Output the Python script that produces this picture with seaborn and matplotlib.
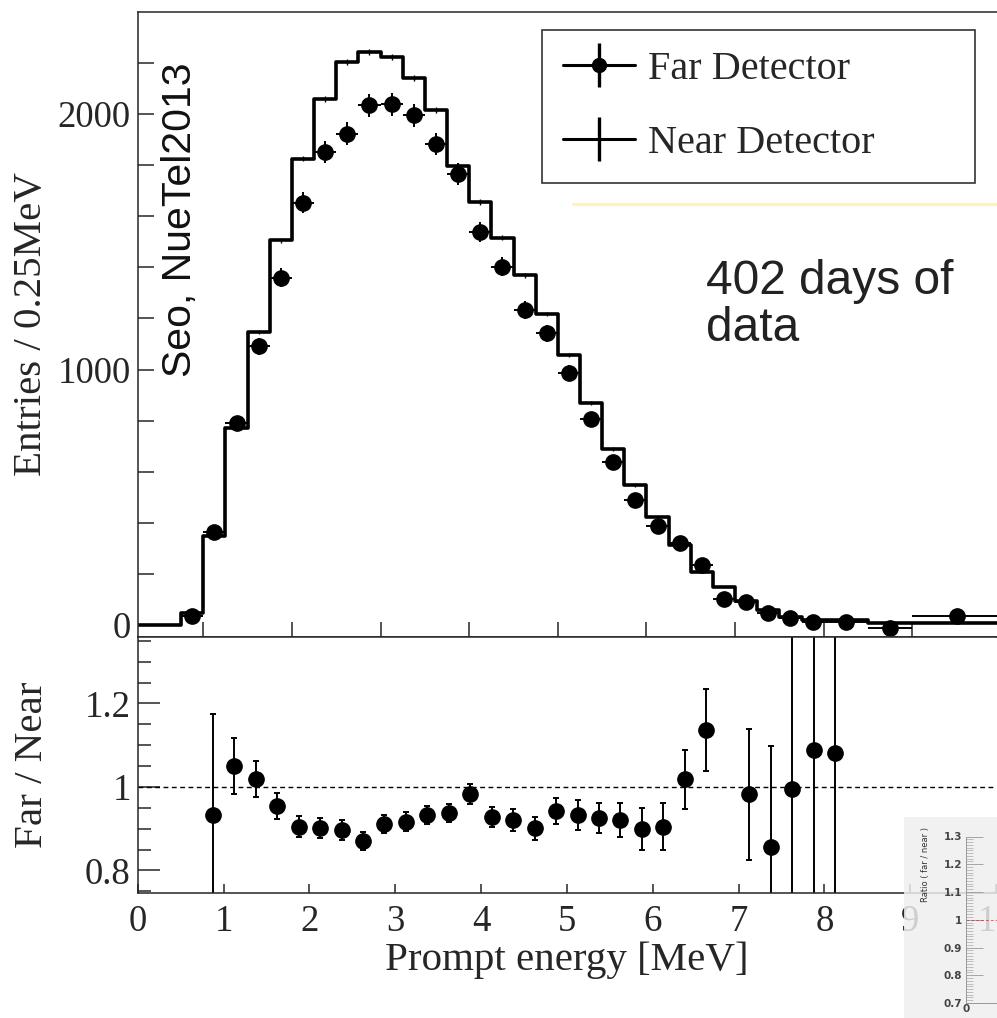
import numpy as np
import matplotlib
matplotlib.use("Agg")
import matplotlib.pyplot as plt
import seaborn as sns
from matplotlib.lines import Line2D
from matplotlib.patches import Rectangle
from matplotlib.legend_handler import HandlerTuple

# ---------------- data ----------------
near_edges = list(np.arange(0.25, 8.01, 0.25)) + [8.5, 9.0, 10.0]
near_counts = [0, 0, 46, 350, 772, 1147, 1507, 1826, 2061, 2205, 2244, 2224, 2140,
               2016, 1798, 1657, 1517, 1370, 1217, 1057, 870, 689, 548, 421, 313,
               207, 150, 95, 59, 30, 20, 20, 9, 9]
near_err = [0, 0, 2, 5, 7, 9, 10, 11, 12, 12, 12, 12, 12, 12, 11, 11, 10, 10, 9,
            9, 8, 7, 6, 5, 5, 4, 3, 3, 2, 2, 1, 1, 1, 1]

far_x = [0.875, 1.125, 1.375, 1.625, 1.875, 2.125, 2.375, 2.625, 2.875, 3.125,
         3.375, 3.625, 3.875, 4.125, 4.375, 4.625, 4.875, 5.125, 5.375, 5.625,
         5.875, 6.125, 6.375, 6.625, 6.875, 7.125, 7.375, 7.625, 7.875, 8.25,
         8.75, 9.5]
far_xerr = [0.125] * 29 + [0.25, 0.25, 0.5]
far_counts = [36, 365, 789, 1092, 1359, 1654, 1853, 1924, 2035, 2039, 1996, 1885,
              1765, 1537, 1402, 1233, 1142, 985, 805, 639, 489, 387, 320, 235, 100,
              91, 46, 26, 13, 13, -13, 35]
far_err = [6, 19, 28, 33, 37, 41, 43, 44, 45, 45, 45, 43, 42, 39, 37, 35, 34, 31,
           28, 25, 22, 20, 18, 15, 10, 10, 7, 6, 5, 5, 5, 6]

ratio_x = [0.875, 1.125, 1.375, 1.625, 1.875, 2.125, 2.375, 2.625, 2.875, 3.125,
           3.375, 3.625, 3.875, 4.125, 4.375, 4.625, 4.875, 5.125, 5.375, 5.625,
           5.875, 6.125, 6.375, 6.625, 7.125, 7.375, 7.625, 7.875, 8.125]
ratio = [0.933, 1.051, 1.019, 0.954, 0.905, 0.901, 0.897, 0.871, 0.911, 0.917,
         0.933, 0.938, 0.983, 0.929, 0.921, 0.901, 0.943, 0.933, 0.925, 0.921,
         0.899, 0.905, 1.018, 1.137, 0.982, 0.855, 0.994, 1.089, 1.081]
ratio_err = [0.242, 0.067, 0.043, 0.032, 0.025, 0.024, 0.024, 0.022, 0.022, 0.022,
             0.022, 0.022, 0.023, 0.024, 0.027, 0.028, 0.031, 0.036, 0.036, 0.040,
             0.050, 0.056, 0.071, 0.098, 0.156, 0.242, 1.0, 1.0, 1.0]

inset_ticks = [0.7, 0.8, 0.9, 1.0, 1.1, 1.2, 1.3]
inset_labels = ["0.7", "0.8", "0.9", "1", "1.1", "1.2", "1.3"]

# ---------------- style ----------------
sns.set_style("ticks")
plt.rcParams["font.family"] = ["Liberation Serif", "DejaVu Serif"]
plt.rcParams["axes.linewidth"] = 1.1

W, H = 997, 1018
fig = plt.figure(figsize=(W / 100, H / 100), dpi=100)

def fx(px):
    return px / W

def fy(py):
    return 1 - py / H

LABEL_FS = 29.5
TICK_FS = 26.5

# ---------------- top panel ----------------
ax = fig.add_axes([fx(137.7), fy(637), fx(1001 - 137.7), (637 - 12) / H])
near_centers = [(a + b) / 2 for a, b in zip(near_edges[:-1], near_edges[1:])]
sns.histplot(x=near_centers, weights=near_counts, bins=near_edges, element="step",
             fill=False, color="black", linewidth=2.6, ax=ax)
ax.errorbar(near_centers[2:], near_counts[2:], yerr=near_err[2:], fmt="none",
            ecolor="black", elinewidth=1.0)
ax.errorbar(far_x, far_counts, xerr=far_xerr, yerr=far_err, fmt="o", color="black",
            ms=11, elinewidth=1.4, capsize=0)
ax.set_xlim(0.26, 10.0)
ax.set_ylim(-47, 2400)
ax.set_xticks(range(1, 10))
ax.set_xticklabels([])
ax.set_yticks([0, 1000, 2000])
ax.set_yticks(np.arange(200, 2400, 200), minor=True)
ax.tick_params(axis="x", direction="in", length=11, width=1.1)
ax.tick_params(axis="y", which="both", direction="in", length=11.5, width=1.1,
               labelsize=TICK_FS, pad=5)
ax.set_ylabel("Entries / 0.25MeV", fontsize=LABEL_FS)
ax.yaxis.set_label_coords((50 - 137.7) / (1001 - 137.7), 0.5)
ax.set_xlabel("")
ax.spines["right"].set_visible(False)
ax.set_facecolor("none")

# legend
far_h = (Line2D([], [], color="black", lw=2.2),
         Line2D([], [], color="black", marker="|", ls="none", ms=32, mew=2.4),
         Line2D([], [], color="black", marker="o", ls="none", ms=10))
near_h = (Line2D([], [], color="black", lw=2.2),
          Line2D([], [], color="black", marker="|", ls="none", ms=32, mew=2.4))
leg = fig.legend([far_h, near_h], ["Far Detector", "Near Detector"],
                 handler_map={tuple: HandlerTuple(ndivide=1)},
                 loc="upper left", mode="expand",
                 bbox_to_anchor=(fx(542), fy(181), fx(975 - 542), (181 - 30) / H),
                 fontsize=29, frameon=True, fancybox=False, borderpad=0.52,
                 handlelength=1.8, handletextpad=0.3, labelspacing=0.92,
                 borderaxespad=0)
leg.get_frame().set_edgecolor("black")
leg.get_frame().set_linewidth(1.2)

# ---------------- bottom panel ----------------
bx = fig.add_axes([fx(137.7), fy(893), fx(996 - 137.7), (893 - 637) / H])
bx.axhline(1.0, color="black", lw=1.0, ls=(0, (3.5, 2.5)))
bx.errorbar(ratio_x, ratio, yerr=ratio_err, fmt="o", color="black", ms=11,
            elinewidth=1.4, capsize=2.5, capthick=1.4)
bx.set_xlim(0, 10)
bx.set_ylim(0.746, 1.359)
bx.set_xticks(range(0, 11))
bx.set_yticks([0.8, 1.0, 1.2])
bx.set_yticklabels(["0.8", "1", "1.2"])
bx.set_yticks(np.arange(0.75, 1.36, 0.05), minor=True)
bx.tick_params(axis="x", direction="in", length=6.5, width=1.1, labelsize=TICK_FS,
               pad=8)
bx.tick_params(axis="y", which="major", direction="in", length=16, width=1.1,
               labelsize=TICK_FS, pad=5)
bx.tick_params(axis="y", which="minor", direction="in", length=9.5, width=1.1)
bx.set_xlabel("Prompt energy [MeV]", fontsize=LABEL_FS)
bx.xaxis.set_label_coords((567 - 137.7) / (996 - 137.7), (893 - 970) / (893 - 637))
bx.xaxis.label.set_va("baseline")
bx.set_ylabel("Far / Near", fontsize=LABEL_FS)
bx.yaxis.set_label_coords((51 - 137.7) / (996 - 137.7), 0.5)
bx.spines["right"].set_visible(False)

# ---------------- annotations ----------------
fig.text(fx(180), fy(220), "Seo, NueTel2013", rotation=90, ha="center", va="center",
         fontsize=29.5, family=["Liberation Sans", "DejaVu Sans"], color="#111111")
fig.text(fx(706), fy(259), "402 days of\ndata", ha="left", va="top", fontsize=34.5,
         family=["Liberation Sans", "DejaVu Sans"], color="#222222", linespacing=1.05)
fig.add_artist(Line2D([fx(573), 1.0], [fy(204), fy(204)], color="#fff1c2", lw=2.2))

# ---------------- pasted inset (bottom right) ----------------
fig.add_artist(Rectangle((fx(904), 0), fx(997 - 904), (1018 - 817) / H,
                         transform=fig.transFigure, facecolor="#efefef",
                         edgecolor="none", alpha=0.84, zorder=5))
ix = fig.add_axes([fx(966), fy(1003), fx(60), (1003 - 836.5) / H], zorder=6)
ix.set_facecolor("none")
ix.axhline(1.0, color="red", lw=0.7, ls=(0, (3, 2)), alpha=0.6)
ix.set_ylim(0.7, 1.3)
ix.set_xlim(0, 1)
ix.set_yticks(inset_ticks)
ix.set_yticklabels(inset_labels)
ix.set_yticks(np.arange(0.7, 1.3, 0.01), minor=True)
ix.set_xticks([0])
ix.tick_params(axis="y", which="major", direction="in", length=12, width=0.6,
               color="#999999", labelsize=7.5, labelcolor="#444444", pad=3)
ix.tick_params(axis="y", which="minor", direction="in", length=5, width=0.5,
               color="#aaaaaa")
ix.tick_params(axis="x", direction="in", length=3, width=0.6, color="#999999",
               labelsize=7.5, labelcolor="#444444", pad=1)
for lab in ix.get_yticklabels() + ix.get_xticklabels():
    lab.set_fontweight("bold")
    lab.set_family(["DejaVu Sans"])
for s in ["top", "right"]:
    ix.spines[s].set_visible(False)
for s in ["left", "bottom"]:
    ix.spines[s].set_color("#999999")
    ix.spines[s].set_linewidth(0.7)
fig.text(fx(925), fy(864), "Ratio ( far / near )", rotation=90, ha="center",
         va="center", fontsize=6, family=["DejaVu Sans"], color="#333333",
         zorder=7)

fig.savefig("out.png", dpi=100)
